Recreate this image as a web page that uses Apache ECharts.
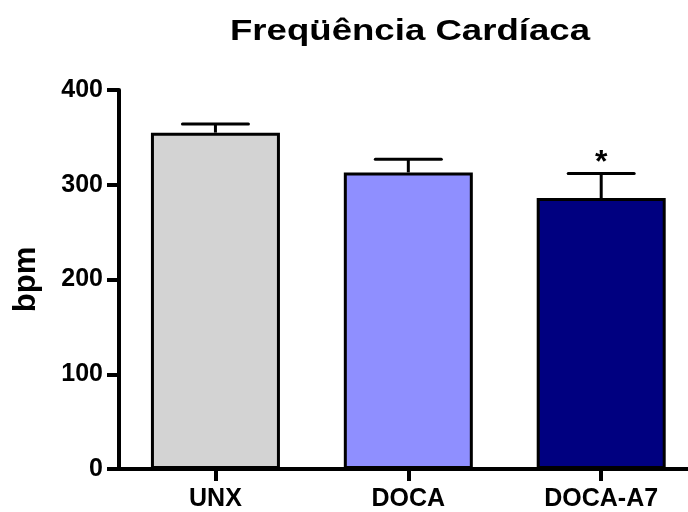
<!DOCTYPE html>
<html>
<head>
<meta charset="utf-8">
<script src="https://cdn.jsdelivr.net/npm/echarts@6/dist/echarts.min.js"></script>
<style>
  html, body { margin: 0; padding: 0; background: #fff; }
  #chart { width: 688px; height: 512px; }
</style>
</head>
<body>
<div id="chart"></div>
<script>
// Heart rate per group (bpm), mean and upper error (SEM)
const groups = ['UNX', 'DOCA', 'DOCA-A7'];
const meanBpm = [355, 313, 286];
const errBpm = [9, 14, 26];
const significance = ['', '', '*'];
const barColors = ['#d3d3d3', '#8f8fff', '#000080'];
const yTicks = [0, 100, 200, 300, 400];

const FONT = '"Liberation Sans", Arial, sans-serif';
const groupIdx = groups.map((g, i) => i);

const chart = echarts.init(document.getElementById('chart'), null, { renderer: 'canvas' });

const errData = groups.map((g, i) => [i, meanBpm[i], meanBpm[i] + errBpm[i], significance[i]]);

chart.setOption({
  backgroundColor: '#ffffff',
  animation: false,
  graphic: [{
    type: 'text',
    x: 410,
    y: 32,
    scaleX: 1.22,
    style: {
      x: 0, y: 0,
      text: 'Freqüência Cardíaca',
      fontFamily: FONT,
      fontWeight: 'bold',
      fontSize: 30,
      fill: '#000',
      textAlign: 'center',
      textVerticalAlign: 'middle'
    }
  }],
  grid: { left: 119, top: 90, bottom: 42, right: 0, containLabel: false },
  // group positions on a numeric axis; the last band is cut by the canvas edge
  xAxis: {
    type: 'value',
    min: -0.5,
    max: 2.45,
    axisLine: { onZero: false, lineStyle: { color: '#000', width: 4 } },
    axisTick: { show: true, customValues: groupIdx, length: 12, lineStyle: { color: '#000', width: 4 } },
    axisLabel: {
      show: true,
      customValues: groupIdx,
      formatter: function (v) { return groups[Math.round(v)]; },
      color: '#000', fontFamily: FONT, fontWeight: 'bold', fontSize: 25, margin: 18
    },
    splitLine: { show: false }
  },
  yAxis: {
    type: 'value',
    min: yTicks[0],
    max: yTicks[yTicks.length - 1],
    interval: 100,
    name: 'bpm',
    nameLocation: 'middle',
    nameRotate: 90,
    nameGap: 77,
    nameTextStyle: { color: '#000', fontFamily: FONT, fontWeight: 'bold', fontSize: 31 },
    axisLine: { show: true, onZero: false, lineStyle: { color: '#000', width: 4 } },
    axisTick: { show: true, length: 12, lineStyle: { color: '#000', width: 4 } },
    axisLabel: { color: '#000', fontFamily: FONT, fontWeight: 'bold', fontSize: 25, margin: 16 },
    splitLine: { show: false }
  },
  series: [{
    type: 'bar',
    data: meanBpm.map((v, i) => ({ value: [i, v], itemStyle: { color: barColors[i] } })),
    barWidth: 129,
    itemStyle: { borderColor: '#000', borderWidth: 3 },
    z: 2
  }, {
    type: 'custom',
    data: errData,
    z: 3,
    renderItem: function (params, api) {
      const x = api.value(0);
      const base = api.coord([x, api.value(1)]);
      const top = api.coord([x, api.value(2)]);
      const half = 33;
      const lw = 3;
      const children = [
        { type: 'line', shape: { x1: base[0], y1: base[1], x2: top[0], y2: top[1] },
          style: { stroke: '#000', lineWidth: lw } },
        { type: 'line', shape: { x1: top[0] - half, y1: top[1], x2: top[0] + half, y2: top[1] },
          style: { stroke: '#000', lineWidth: lw, lineCap: 'round' } }
      ];
      const mark = api.value(3);
      if (mark) {
        children.push({
          type: 'text',
          style: {
            x: top[0], y: top[1] + 6, text: String(mark),
            fontFamily: FONT, fontWeight: 'bold', fontSize: 32,
            fill: '#000', textAlign: 'center', textVerticalAlign: 'bottom'
          }
        });
      }
      return { type: 'group', children: children };
    }
  }]
});
</script>
</body>
</html>
